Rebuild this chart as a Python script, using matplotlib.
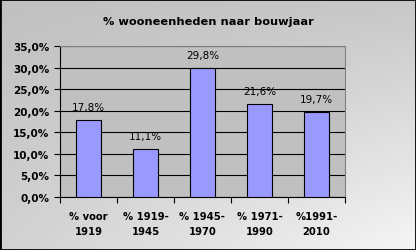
import numpy as np
import matplotlib
matplotlib.use("Agg")
import matplotlib.pyplot as plt

categories = ["% voor\n1919", "% 1919-\n1945", "% 1945-\n1970", "% 1971-\n1990", "%1991-\n2010"]
values = [17.8, 11.1, 29.8, 21.6, 19.7]
labels = ["17,8%", "11,1%", "29,8%", "21,6%", "19,7%"]
yticks = [0, 5, 10, 15, 20, 25, 30, 35]

fig = plt.figure(figsize=(4.16, 2.51), dpi=100)

# soft grey background, darker top-left, lighter bottom-right
bg = fig.add_axes([0, 0, 1, 1], zorder=0)
gx, gy = np.meshgrid(np.linspace(0, 1, 200), np.linspace(0, 1, 120))
shade = 0.75 + 0.03 * gx + 0.07 * gy + 0.11 * gx * gy
bg.imshow(shade, aspect="auto", cmap="gray", vmin=0, vmax=1,
          extent=[0, 1, 0, 1], origin="upper")
bg.set_xlim(0, 1)
bg.set_ylim(0, 1)
bg.set_xticks([])
bg.set_yticks([])
for s in bg.spines.values():
    s.set_linewidth(2)
    s.set_color("black")

ax = fig.add_axes([0.144, 0.211, 0.685, 0.602], zorder=1)
ax.set_facecolor("#c0c0c0")
x = np.arange(len(values))
ax.bar(x, values, width=0.44, color="#9999ff", edgecolor="black", linewidth=0.8, zorder=3)
for xi, v, lab in zip(x, values, labels):
    ax.text(xi, v + 3.0, lab, ha="center", va="center", fontsize=7.5, zorder=4)

ax.set_xlim(-0.5, len(values) - 0.5)
ax.set_ylim(0, 35)
ax.set_yticks(yticks)
ax.set_yticklabels([f"{t:.1f}%".replace(".", ",") for t in yticks], fontsize=7.5, fontweight="bold")
ax.yaxis.grid(True, color="black", linewidth=0.8, zorder=1)
ax.set_axisbelow(True)

ax.set_xticks(np.arange(-0.5, len(values), 1))
ax.set_xticklabels([])
ax.set_xticks(x, minor=True)
ax.set_xticklabels(categories, minor=True, fontsize=7.2, fontweight="bold", linespacing=1.6)
ax.tick_params(axis="x", which="minor", length=0, pad=10)
ax.tick_params(axis="x", which="major", length=4, direction="out")
ax.tick_params(axis="y", length=4, direction="out")

for side in ["top", "right"]:
    ax.spines[side].set_color("#808080")
ax.spines["left"].set_color("black")
ax.spines["bottom"].set_color("black")

fig.text(0.5, 0.912, "% wooneenheden naar bouwjaar", ha="center", va="center",
         fontsize=8.2, fontweight="bold", zorder=2)

fig.savefig("out.png", dpi=100)
